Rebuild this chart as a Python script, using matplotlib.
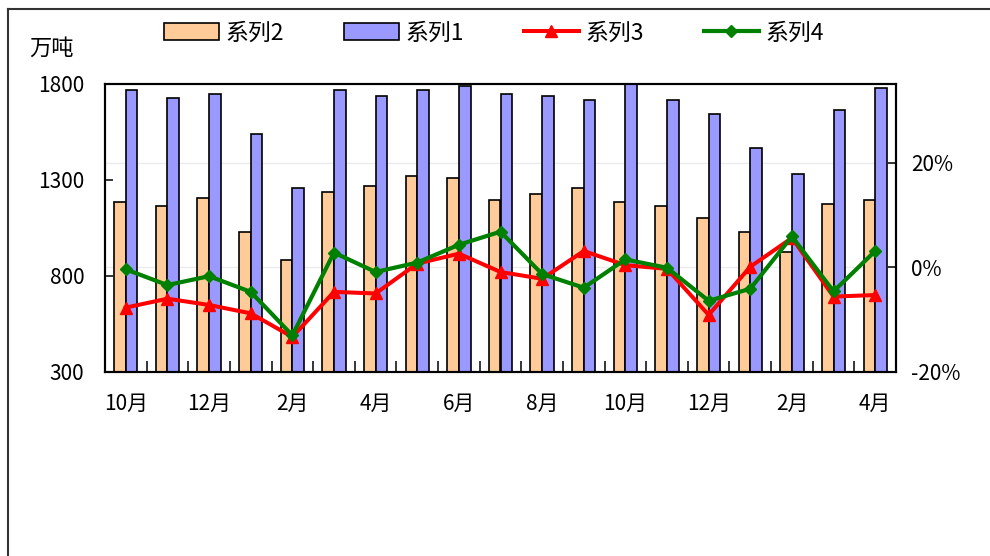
import matplotlib
matplotlib.use("Agg")
import matplotlib.pyplot as plt
from matplotlib.lines import Line2D
import numpy as np

plt.rcParams['font.family'] = ['Noto Sans CJK SC', 'DejaVu Sans']

months = ['10月', '11月', '12月', '1月', '2月', '3月', '4月', '5月', '6月', '7月',
          '8月', '9月', '10月', '11月', '12月', '1月', '2月', '3月', '4月']
series1 = [1769, 1729, 1750, 1540, 1257, 1769, 1738, 1769, 1790, 1748,
           1738, 1717, 1805, 1717, 1644, 1467, 1330, 1665, 1777]
series2 = [1185, 1165, 1206, 1029, 883, 1239, 1269, 1322, 1310, 1195,
           1229, 1257, 1185, 1165, 1100, 1029, 923, 1175, 1196]
series3 = [-7.7, -6.0, -7.2, -8.8, -13.3, -4.7, -5.0, 0.7, 2.6, -0.9,
           -2.2, 3.1, 0.4, -0.3, -9.1, 0.1, 5.6, -5.6, -5.3]
series4 = [-0.4, -3.4, -1.7, -4.7, -13.0, 2.8, -0.9, 0.9, 4.3, 6.8,
           -1.3, -3.9, 1.5, -0.1, -6.4, -4.1, 5.9, -4.6, 3.1]
left_ticks = [300, 800, 1300, 1800]
right_ticks = [-20, 0, 20]
right_labels = ['-20%', '0%', '20%']
unit_label = '万吨'
names = ['系列2', '系列1', '系列3', '系列4']

FS = 15
fig = plt.figure(figsize=(9.9, 5.56), dpi=100)
ax = fig.add_axes([105/990, 1-372/556, (896-105)/990, (372-84)/556])
ax2 = ax.twinx()

x = np.arange(len(months))
w = 0.28
b2 = ax.bar(x - w/2, series2, width=w, color='#FFCC99', edgecolor='black', linewidth=1.2, zorder=2, label=names[0])
b1 = ax.bar(x + w/2, series1, width=w, color='#9999FF', edgecolor='black', linewidth=1.2, zorder=2, label=names[1])

ax.set_xlim(-0.5, len(months) - 0.5)
ax.set_ylim(300, 1800)
ax.set_yticks(left_ticks)
ax.set_yticklabels([str(v) for v in left_ticks], fontsize=FS)
ax.set_xticks(x[::2])
ax.set_xticklabels(months[::2], fontsize=FS)
ax.set_xticks(np.arange(len(months) + 1) - 0.5, minor=True)
ax.tick_params(axis='x', which='major', length=0, pad=15)
ax.tick_params(axis='x', which='minor', length=8, width=1.1, direction='in')
ax.tick_params(axis='y', length=6, width=1.1, direction='in', pad=15)

# faint gridlines at right-axis tick values, drawn behind the bars
for t in right_ticks[1:]:
    ax.add_line(Line2D([0, 1], [t, t], transform=ax2.get_yaxis_transform(),
                       color='#ececec', lw=1, zorder=0))

l3, = ax2.plot(x, series3, color='#FF0000', lw=2.9, marker='^', ms=8, zorder=3, label=names[2])
l4, = ax2.plot(x, series4, color='#008000', lw=3.0, marker='D', ms=6.5, zorder=4, label=names[3])
ax2.set_ylim(-20, 35)
ax2.set_yticks(right_ticks)
ax2.set_yticklabels(right_labels, fontsize=FS)
ax2.tick_params(axis='y', length=6, width=1.1, direction='in', pad=11)

for a in (ax, ax2):
    for s in a.spines.values():
        s.set_color('black')
        s.set_linewidth(1.5)

fig.text(52/990, 1-48/556, unit_label, fontsize=16, ha='center', va='center')

fig.legend([b2, b1, l3, l4], names, loc='center', bbox_to_anchor=(494/990, 1-33/556),
           ncol=4, frameon=False, fontsize=16.5, handlelength=2.4, handleheight=0.75,
           handletextpad=0.3, columnspacing=2.6)

fig.add_artist(Line2D([8/990, 8/990], [0, 1-9/556], color='#333333', lw=1.5))
fig.add_artist(Line2D([8/990, 1], [1-9/556, 1-9/556], color='#333333', lw=1.5))

fig.savefig('out.png', dpi=100)
